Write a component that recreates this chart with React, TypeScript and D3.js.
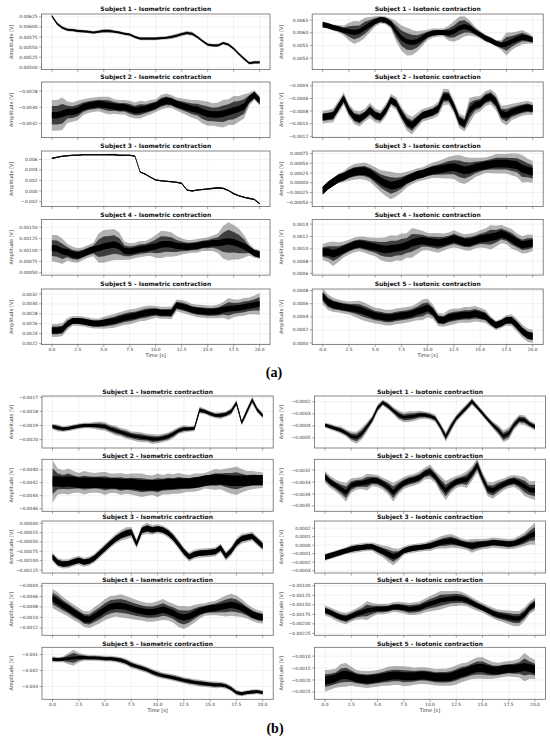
import React from 'react';
import * as d3 from 'd3';

const sampleTimes = [0, 0.5, 1, 1.5, 2, 2.5, 3, 3.5, 4, 4.5, 5, 5.5, 6, 6.5, 7, 7.5, 8, 8.5, 9, 9.5, 10,
  10.5, 11, 11.5, 12, 12.5, 13, 13.5, 14, 14.5, 15, 15.5, 16, 16.5, 17, 17.5, 18, 18.5, 19, 19.5, 20];
const xTicks = [0, 2.5, 5, 7.5, 10, 12.5, 15, 17.5, 20];

// ---------- (a) isometric ----------
const aIso1Ticks = [0.005, 0.00525, 0.0055, 0.00575, 0.006, 0.00625];
const aIso1Mid = [0.00627, 0.00608, 0.00598, 0.00593, 0.00592, 0.0059, 0.00589, 0.00588, 0.00586, 0.00588,
  0.0059, 0.0059, 0.00588, 0.00586, 0.00583, 0.00581, 0.00575, 0.00571, 0.00571, 0.00571,
  0.00571, 0.00572, 0.00573, 0.00575, 0.00578, 0.00582, 0.00585, 0.00583, 0.00575, 0.00565,
  0.00556, 0.00554, 0.00554, 0.0056, 0.00556, 0.00546, 0.00533, 0.00521, 0.0051, 0.00512, 0.00512];
const aIso1Spread = [0.00004, 0.00004, 0.00004, 0.00004, 0.00004, 0.00004, 0.00004, 0.00004, 0.00004, 0.00004,
  0.00005, 0.00005, 0.00004, 0.00004, 0.00004, 0.00004, 0.00004, 0.00004, 0.00004, 0.00004,
  0.00004, 0.00004, 0.00004, 0.00005, 0.00005, 0.00005, 0.00005, 0.00005, 0.00004, 0.00004,
  0.00004, 0.00004, 0.00004, 0.00004, 0.00004, 0.00004, 0.00004, 0.00004, 0.00004, 0.00004, 0.00004];

const aIso2Ticks = [-0.0032, -0.003, -0.0028];
const aIso2Mid = [-0.0031, -0.0031, -0.00308, -0.00306, -0.00306, -0.00304, -0.003, -0.00298, -0.00297, -0.00296,
  -0.00297, -0.00298, -0.00299, -0.003, -0.003, -0.00302, -0.00304, -0.00303, -0.00302, -0.003,
  -0.00298, -0.00294, -0.00292, -0.00293, -0.00296, -0.00298, -0.003, -0.00302, -0.00303, -0.00306,
  -0.00308, -0.00309, -0.00309, -0.00308, -0.00306, -0.00304, -0.00302, -0.00299, -0.0029, -0.00285, -0.00292];
const aIso2Spread = [0.00019, 0.00019, 0.0002, 0.00013, 0.00012, 0.00012, 0.0001, 0.00009, 0.00009, 0.00009,
  0.0001, 0.00011, 0.00009, 0.00009, 0.00009, 0.0001, 0.0001, 0.00011, 0.00009, 0.00009,
  0.00008, 0.00009, 0.00009, 0.00008, 0.00008, 0.00009, 0.0001, 0.00011, 0.00012, 0.00014,
  0.00015, 0.00014, 0.00015, 0.00017, 0.00016, 0.00018, 0.00016, 0.00015, 0.00008, 0.00006, 0.00006];

const aIso3Ticks = [-0.002, 0, 0.002, 0.004, 0.006];
const aIso3Mid = [0.0062, 0.0064, 0.0066, 0.0067, 0.0068, 0.0068, 0.0069, 0.0069, 0.0069, 0.0069,
  0.0069, 0.0069, 0.0069, 0.0068, 0.0068, 0.0068, 0.0066, 0.0036, 0.0032, 0.0026,
  0.0021, 0.00195, 0.00185, 0.00175, 0.00165, 0.00145, 0.0002, 0.0, 0.0002, 0.0003,
  0.0004, 0.0005, 0.0006, 0.0005, 0.0001, -0.0005, -0.0009, -0.0012, -0.0014, -0.0016, -0.0024];
const aIso3Spread = [0.00015, 0.00015, 0.00015, 0.00015, 0.00015, 0.00015, 0.00015, 0.00015, 0.00015, 0.00015,
  0.00015, 0.00018, 0.00022, 0.00018, 0.00015, 0.00015, 0.00015, 0.00015, 0.00015, 0.00015,
  0.00015, 0.00015, 0.00015, 0.00015, 0.00015, 0.00015, 0.00015, 0.00015, 0.00015, 0.00015,
  0.00015, 0.00015, 0.00015, 0.00015, 0.00015, 0.00015, 0.00015, 0.00015, 0.00015, 0.00015, 0.00015];

const aIso4Ticks = [0.0005, 0.00075, 0.001, 0.00125, 0.0015];
const aIso4Mid = [0.00104, 0.00103, 0.00097, 0.00095, 0.0009, 0.00088, 0.00092, 0.00097, 0.00101, 0.00104,
  0.00108, 0.0011, 0.00112, 0.00108, 0.00098, 0.00097, 0.00099, 0.00102, 0.00103, 0.00106,
  0.00108, 0.00112, 0.00113, 0.00112, 0.00109, 0.00108, 0.00107, 0.00108, 0.00109, 0.00112,
  0.00113, 0.00115, 0.00115, 0.00117, 0.00119, 0.00117, 0.00113, 0.00108, 0.00101, 0.00093, 0.0009];
const aIso4Spread = [0.00029, 0.0003, 0.00028, 0.00018, 0.00017, 0.00016, 0.00014, 0.00014, 0.00015, 0.00032,
  0.00036, 0.00035, 0.00034, 0.0003, 0.0002, 0.00018, 0.00017, 0.00018, 0.00017, 0.00019,
  0.00025, 0.0003, 0.00028, 0.00027, 0.00022, 0.00018, 0.00015, 0.00014, 0.00015, 0.00014,
  0.00015, 0.00017, 0.00022, 0.00036, 0.00042, 0.00038, 0.00034, 0.00025, 0.00013, 0.0001, 0.0001];

const aIso5Ticks = [0.0022, 0.0024, 0.0026, 0.0028, 0.003, 0.0032];
const aIso5Mid = [0.002465, 0.002465, 0.002484, 0.002594, 0.002658, 0.002658, 0.002645, 0.002626, 0.002606, 0.002606,
  0.002619, 0.002639, 0.002658, 0.00269, 0.00272, 0.00274, 0.00276, 0.00279, 0.00281, 0.00283,
  0.00284, 0.00282, 0.00282, 0.00282, 0.00297, 0.00295, 0.00292, 0.00288, 0.00286, 0.00285,
  0.00284, 0.00284, 0.00285, 0.00288, 0.0029, 0.00291, 0.00292, 0.00294, 0.00296, 0.00298, 0.003];
const aIso5Spread = [0.00013, 0.00013, 0.00013, 0.00012, 0.0001, 0.0001, 0.0001, 0.0001, 0.0001, 0.0001,
  0.00012, 0.00013, 0.00014, 0.00014, 0.00014, 0.00015, 0.00014, 0.00014, 0.00015, 0.00014,
  0.00012, 0.00012, 0.00012, 0.00013, 0.00012, 0.00013, 0.00013, 0.00012, 0.00013, 0.00013,
  0.00013, 0.00013, 0.00014, 0.00016, 0.00022, 0.00018, 0.00017, 0.00018, 0.00017, 0.00019, 0.00022];

// ---------- (a) isotonic ----------
const aTon1Ticks = [0.005, 0.0055, 0.006, 0.0065];
const aTon1Mid = [0.00632, 0.00628, 0.00621, 0.00616, 0.00609, 0.00605, 0.00601, 0.00605, 0.00619, 0.00632,
  0.00645, 0.00652, 0.00649, 0.00636, 0.00605, 0.00579, 0.00566, 0.00562, 0.00566, 0.00579,
  0.00592, 0.00599, 0.00601, 0.00601, 0.00599, 0.00605, 0.00619, 0.00625, 0.00619, 0.00605,
  0.00592, 0.00579, 0.0057, 0.00559, 0.00552, 0.00556, 0.00566, 0.00575, 0.00583, 0.00579, 0.00572];
const aTon1Spread = [0.00012, 0.00012, 0.00012, 0.00015, 0.0002, 0.00035, 0.00045, 0.0004, 0.0004, 0.0003,
  0.0002, 0.00015, 0.00015, 0.0002, 0.0004, 0.0005, 0.00055, 0.0005, 0.0004, 0.0003,
  0.0002, 0.00018, 0.00016, 0.00016, 0.0003, 0.0004, 0.00045, 0.0004, 0.0003, 0.0002,
  0.00015, 0.00014, 0.00013, 0.00013, 0.0002, 0.00045, 0.00035, 0.0003, 0.00028, 0.00022, 0.00015];

const aTon2Ticks = [-0.0012, -0.001, -0.0008, -0.0006, -0.0004];
const aTon2Mid = [-0.000896, -0.000885, -0.000869, -0.000736, -0.000603, -0.000789, -0.000896, -0.000923, -0.000869, -0.000789,
  -0.000869, -0.000896, -0.000789, -0.000629, -0.000683, -0.000843, -0.000976, -0.001029, -0.000949, -0.000869,
  -0.000843, -0.000816, -0.000763, -0.000576, -0.000576, -0.000736, -0.000949, -0.001003, -0.000789, -0.000709,
  -0.000683, -0.000603, -0.000576, -0.000656, -0.000843, -0.000869, -0.000816, -0.000789, -0.000763, -0.000747, -0.000763];
const aTon2Spread = [0.0001, 0.0001, 0.00011, 0.0001, 0.0001, 0.0001, 0.00011, 0.00012, 0.0001, 0.00012,
  0.00011, 0.0001, 0.0001, 0.0001, 0.0001, 0.00011, 0.00013, 0.00014, 0.00012, 0.0001,
  0.0001, 0.0001, 0.00011, 0.00013, 0.00012, 0.0001, 0.00012, 0.00012, 0.0002, 0.00014,
  0.00012, 0.00012, 0.00012, 0.00013, 0.00013, 0.00016, 0.00013, 0.00012, 0.00011, 0.00011, 0.0001];

const aTon3Ticks = [-0.0005, -0.00025, 0, 0.00025, 0.0005, 0.00075];
const aTon3Mid = [-0.0002, -0.00007, 0.00002, 0.00011, 0.00016, 0.00023, 0.00028, 0.0003, 0.0003, 0.00025,
  0.00015, 0.00005, -0.00002, -0.00007, -0.00005, 0, 0.00008, 0.00014, 0.0002, 0.00023,
  0.00028, 0.00032, 0.00034, 0.00036, 0.00039, 0.0004, 0.00036, 0.00032, 0.00034, 0.00039,
  0.00042, 0.00045, 0.00047, 0.00049, 0.00049, 0.00049, 0.00047, 0.00045, 0.00036, 0.00032, 0.00028];
const aTon3Spread = [0.0001, 0.0001, 0.0001, 0.00012, 0.00014, 0.00018, 0.0002, 0.0002, 0.00022, 0.00022,
  0.00025, 0.00028, 0.00032, 0.00035, 0.0003, 0.00025, 0.0002, 0.00018, 0.00017, 0.00017,
  0.00018, 0.0002, 0.00022, 0.00025, 0.00028, 0.0003, 0.00035, 0.00035, 0.0003, 0.00025,
  0.00022, 0.0002, 0.00022, 0.00025, 0.00025, 0.00025, 0.00028, 0.0003, 0.00035, 0.0003, 0.00028];

const aTon4Ticks = [0.0006, 0.0008, 0.001, 0.0012, 0.0014];
const aTon4Mid = [0.000947, 0.000947, 0.00092, 0.000947, 0.000989, 0.001027, 0.001064, 0.00108, 0.001064, 0.001043,
  0.001027, 0.001, 0.000989, 0.001, 0.001011, 0.001027, 0.001053, 0.001096, 0.001117, 0.001133,
  0.001117, 0.001107, 0.001096, 0.001107, 0.001133, 0.00116, 0.001133, 0.001107, 0.001107, 0.001133,
  0.00116, 0.001171, 0.001187, 0.001203, 0.00124, 0.001213, 0.00116, 0.001107, 0.001064, 0.00108, 0.001096];
const aTon4Spread = [0.00013, 0.00016, 0.0002, 0.00016, 0.00013, 0.00012, 0.00012, 0.00012, 0.00013, 0.00014,
  0.00015, 0.00018, 0.0002, 0.00022, 0.0002, 0.00022, 0.0002, 0.00024, 0.0002, 0.00016,
  0.00014, 0.00015, 0.00016, 0.00014, 0.00013, 0.00014, 0.00013, 0.00013, 0.00014, 0.00013,
  0.00014, 0.00016, 0.0002, 0.00017, 0.00015, 0.00014, 0.00016, 0.00014, 0.00014, 0.00015, 0.00013];

const aTon5Ticks = [0, 0.0002, 0.0004, 0.0006, 0.0008];
const aTon5Mid = [0.000712, 0.000623, 0.000582, 0.000565, 0.000547, 0.000535, 0.000523, 0.000506, 0.000476, 0.000447,
  0.000418, 0.000406, 0.000388, 0.000388, 0.000406, 0.000418, 0.000429, 0.000447, 0.000476, 0.000506,
  0.000535, 0.000476, 0.000359, 0.000347, 0.000388, 0.000406, 0.000418, 0.000429, 0.000429, 0.000447,
  0.000429, 0.000406, 0.000329, 0.00027, 0.0003, 0.000347, 0.000347, 0.00027, 0.000182, 0.00012, 0.0001];
const aTon5Spread = [0.00012, 0.00012, 0.00011, 0.0001, 0.0001, 0.0001, 0.00012, 0.00014, 0.00014, 0.00013,
  0.00012, 0.00012, 0.00012, 0.00012, 0.00012, 0.00012, 0.00012, 0.00012, 0.00013, 0.00016,
  0.00014, 0.00011, 0.0001, 0.0001, 0.00012, 0.00012, 0.00011, 0.00012, 0.00012, 0.00012,
  0.00011, 0.0001, 0.00008, 0.00007, 0.00007, 0.00008, 0.00009, 0.0001, 0.0001, 0.0001, 0.0001];

// ---------- (b) isometric ----------
const bIso1Ticks = [-0.002, -0.0019, -0.0018, -0.0017];
const bIso1Mid = [-0.001907, -0.001917, -0.001925, -0.00192, -0.001912, -0.001905, -0.0019, -0.0019, -0.0019, -0.001902,
  -0.001907, -0.001924, -0.001936, -0.001948, -0.00196, -0.001972, -0.001979, -0.001984, -0.001989, -0.001996,
  -0.001996, -0.001989, -0.001979, -0.00196, -0.001936, -0.001924, -0.001924, -0.00192, -0.00179, -0.0018,
  -0.001816, -0.001828, -0.001828, -0.00182, -0.0018, -0.00174, -0.00188, -0.0018, -0.00172, -0.00179, -0.00183];
const bIso1Spread = [0.00002, 0.000025, 0.00002, 0.00002, 0.00002, 0.00002, 0.00002, 0.00002, 0.000025, 0.00003,
  0.00003, 0.00003, 0.000035, 0.00003, 0.000035, 0.00003, 0.000035, 0.000035, 0.00003, 0.000035,
  0.00003, 0.00003, 0.00003, 0.00003, 0.000025, 0.000025, 0.00002, 0.00002, 0.000025, 0.00002,
  0.00002, 0.00002, 0.000025, 0.00002, 0.000025, 0.00002, 0.00002, 0.000025, 0.000025, 0.00002, 0.00002];

const bIso2Ticks = [-0.0046, -0.0044, -0.0042, -0.004];
const bIso2Mid = [-0.00418, -0.00418, -0.00419, -0.00418, -0.00419, -0.0042, -0.0042, -0.0042, -0.0042, -0.0042,
  -0.00421, -0.00421, -0.00421, -0.00422, -0.00422, -0.00422, -0.00423, -0.00424, -0.00424, -0.00424,
  -0.00424, -0.00423, -0.00422, -0.00422, -0.00421, -0.00421, -0.00421, -0.0042, -0.00419, -0.00417,
  -0.00416, -0.00415, -0.00415, -0.00416, -0.00417, -0.00417, -0.00417, -0.00417, -0.00416, -0.00416, -0.00416];
const bIso2Spread = [0.00033, 0.0002, 0.00018, 0.0002, 0.00017, 0.00015, 0.00018, 0.00016, 0.00015, 0.00016,
  0.00018, 0.00015, 0.00015, 0.00017, 0.00015, 0.00016, 0.00017, 0.00018, 0.00016, 0.00015,
  0.00018, 0.00015, 0.00016, 0.00015, 0.00016, 0.00014, 0.00013, 0.00014, 0.00013, 0.00012,
  0.00014, 0.00016, 0.00015, 0.00018, 0.0002, 0.00022, 0.00018, 0.00015, 0.00014, 0.00013, 0.00012];

const bIso3Ticks = [-0.00125, -0.001, -0.00075, -0.0005, -0.00025, 0];
const bIso3Mid = [-0.0009, -0.00105, -0.00109, -0.00108, -0.00103, -0.00099, -0.00104, -0.00101, -0.00093, -0.0008,
  -0.00067, -0.00054, -0.00042, -0.00033, -0.00027, -0.00024, -0.00055, -0.00019, -0.00014, -0.00018,
  -0.00015, -0.00018, -0.00026, -0.00039, -0.00057, -0.00076, -0.0009, -0.00083, -0.0008, -0.00079,
  -0.00078, -0.00076, -0.00066, -0.00088, -0.00074, -0.00053, -0.00041, -0.00038, -0.00035, -0.00048, -0.00061];
const bIso3Spread = [0.00012, 0.00012, 0.00012, 0.00012, 0.00012, 0.00012, 0.00012, 0.00012, 0.00012, 0.00012,
  0.00012, 0.00012, 0.00013, 0.00014, 0.00016, 0.00014, 0.00012, 0.00013, 0.00015, 0.00013,
  0.00012, 0.00012, 0.00012, 0.00012, 0.00012, 0.00012, 0.00012, 0.00012, 0.00012, 0.00012,
  0.00012, 0.00012, 0.00012, 0.00012, 0.00012, 0.00013, 0.00013, 0.00012, 0.00012, 0.00012, 0.00012];

const bIso4Ticks = [-0.0012, -0.001, -0.0008, -0.0006, -0.0004];
const bIso4Mid = [-0.00064, -0.0007, -0.00077, -0.00083, -0.0009, -0.00096, -0.00103, -0.00104, -0.00098, -0.00092,
  -0.00085, -0.0008, -0.00078, -0.00078, -0.0008, -0.00083, -0.00086, -0.00088, -0.0009, -0.0009,
  -0.00088, -0.00085, -0.00088, -0.00092, -0.00098, -0.001, -0.00098, -0.00093, -0.00088, -0.00085,
  -0.00083, -0.00082, -0.0008, -0.00078, -0.00076, -0.00078, -0.00082, -0.00088, -0.00094, -0.00098, -0.001];
const bIso4Spread = [0.00018, 0.00018, 0.00016, 0.00015, 0.00015, 0.00014, 0.00015, 0.00016, 0.00018, 0.00019,
  0.0002, 0.00021, 0.0002, 0.00022, 0.00021, 0.0002, 0.00019, 0.00018, 0.00018, 0.00018,
  0.00019, 0.0002, 0.00018, 0.00018, 0.0002, 0.00022, 0.00019, 0.00017, 0.00014, 0.00012,
  0.00013, 0.00014, 0.00017, 0.0002, 0.00021, 0.0002, 0.00017, 0.00014, 0.00013, 0.00012, 0.00012];

const bIso5Ticks = [-0.003, -0.002, -0.001];
const bIso5Mid = [-0.0013, -0.00132, -0.0013, -0.00126, -0.00121, -0.00119, -0.00119, -0.00121, -0.00121, -0.00123,
  -0.00126, -0.00126, -0.0013, -0.00136, -0.00147, -0.00164, -0.00174, -0.00185, -0.00196, -0.00211,
  -0.00223, -0.00232, -0.00238, -0.00245, -0.00253, -0.00262, -0.00268, -0.00274, -0.00279, -0.00283,
  -0.00287, -0.0029, -0.0029, -0.00296, -0.00313, -0.00338, -0.00345, -0.00338, -0.00334, -0.00332, -0.00338];
const bIso5Spread = [0.00018, 0.00017, 0.00018, 0.00035, 0.0005, 0.0003, 0.0002, 0.00018, 0.00018, 0.00017,
  0.00018, 0.00018, 0.00018, 0.0002, 0.0002, 0.00022, 0.0002, 0.00021, 0.0002, 0.0002,
  0.00021, 0.0002, 0.0002, 0.00021, 0.0002, 0.0002, 0.00021, 0.0002, 0.00021, 0.0002,
  0.0002, 0.00021, 0.0002, 0.00018, 0.00017, 0.00016, 0.00016, 0.00015, 0.00016, 0.00015, 0.00015];

// ---------- (b) isotonic ----------
const bTon1Ticks = [-0.0005, -0.0004, -0.0003, -0.0002];
const bTon1Mid = [-0.000394, -0.000408, -0.000422, -0.000436, -0.000459, -0.000487, -0.000498, -0.000464, -0.000408, -0.000347,
  -0.000254, -0.000207, -0.000235, -0.000274, -0.00031, -0.00033, -0.000324, -0.000319, -0.00031, -0.00031,
  -0.000319, -0.000338, -0.000408, -0.000492, -0.000408, -0.000338, -0.000291, -0.000246, -0.000198, -0.000246,
  -0.000296, -0.000347, -0.000394, -0.000436, -0.000487, -0.000464, -0.000394, -0.000347, -0.000352, -0.000386, -0.000408];
const bTon1Spread = [0.00002, 0.000025, 0.000025, 0.00003, 0.00003, 0.00004, 0.00005, 0.00005, 0.00004, 0.00003,
  0.00003, 0.000025, 0.00003, 0.00003, 0.00004, 0.00004, 0.000045, 0.00004, 0.000035, 0.00003,
  0.00003, 0.00003, 0.00003, 0.00004, 0.00004, 0.00003, 0.00003, 0.00003, 0.00003, 0.000025,
  0.000025, 0.000025, 0.00003, 0.00004, 0.00005, 0.00005, 0.00004, 0.00004, 0.00004, 0.00003, 0.00003];

const bTon2Ticks = [-0.0035, -0.0034, -0.0033, -0.0032];
const bTon2Mid = [-0.003257, -0.0033, -0.003329, -0.003357, -0.003386, -0.003329, -0.003314, -0.003309, -0.0033, -0.003286,
  -0.003291, -0.003314, -0.003343, -0.003386, -0.003343, -0.003309, -0.003291, -0.00328, -0.003263, -0.003229,
  -0.003214, -0.003257, -0.00332, -0.003371, -0.003329, -0.0033, -0.003286, -0.00328, -0.003229, -0.00316,
  -0.00327, -0.00336, -0.003371, -0.003343, -0.00332, -0.0033, -0.003291, -0.003309, -0.003337, -0.003366, -0.003371];
const bTon2Spread = [0.00005, 0.00005, 0.00005, 0.00006, 0.00008, 0.00006, 0.00005, 0.00005, 0.00007, 0.00005,
  0.00005, 0.00005, 0.00006, 0.00008, 0.00006, 0.00005, 0.00005, 0.00005, 0.00005, 0.00005,
  0.00006, 0.00005, 0.00007, 0.00008, 0.00006, 0.00005, 0.00005, 0.00007, 0.00006, 0.00006,
  0.00005, 0.00006, 0.00007, 0.00006, 0.00005, 0.00005, 0.00005, 0.00006, 0.00008, 0.00007, 0.00008];

const bTon3Ticks = [-0.0003, -0.0002, -0.0001, 0, 0.0001, 0.0002];
const bTon3Mid = [-0.000142, -0.000123, -0.000104, -0.000085, -0.000065, -0.000046, -0.000035, -0.000027, -0.000019, -0.000019,
  -0.000046, -0.000073, -0.000104, -0.000135, -0.000112, -0.000065, -0.000046, -0.000035, -0.000027, -0.000019,
  -0.000008, 0.000012, 0.000031, 0.000042, 0.00005, 0.000038, 0.000019, 0.000004, -0.000008, 0.000004,
  0.000012, 0.000019, 0.000031, 0.000025, 0.000019, 0.000012, 0.000019, 0.000042, 0.000069, 0.000108, 0.000135];
const bTon3Spread = [0.00004, 0.00004, 0.00004, 0.00004, 0.00004, 0.00005, 0.00005, 0.00005, 0.00005, 0.00005,
  0.00006, 0.00007, 0.00009, 0.0001, 0.00007, 0.00005, 0.00005, 0.00005, 0.00005, 0.00005,
  0.00006, 0.00006, 0.00007, 0.00008, 0.00008, 0.00007, 0.00006, 0.00006, 0.00008, 0.00007,
  0.00006, 0.00006, 0.00006, 0.00006, 0.00006, 0.00006, 0.00006, 0.00007, 0.00008, 0.0001, 0.00013];

const bTon4Ticks = [-0.00225, -0.002, -0.00175, -0.0015, -0.00125, -0.001];
const bTon4Mid = [-0.00165, -0.0017, -0.00177, -0.00183, -0.00186, -0.0018, -0.00174, -0.0017, -0.00165, -0.00163,
  -0.00161, -0.00161, -0.0016, -0.00156, -0.00156, -0.00158, -0.00161, -0.0016, -0.00158, -0.00152,
  -0.00147, -0.00143, -0.00138, -0.00136, -0.00134, -0.00133, -0.00134, -0.00138, -0.00145, -0.00152,
  -0.00158, -0.00165, -0.00172, -0.00177, -0.0018, -0.00183, -0.00186, -0.00186, -0.00175, -0.00158, -0.00148];
const bTon4Spread = [0.00013, 0.00013, 0.00014, 0.00014, 0.00015, 0.00014, 0.00015, 0.00018, 0.00025, 0.00018,
  0.00014, 0.00014, 0.00013, 0.00013, 0.00014, 0.00015, 0.00016, 0.00017, 0.00017, 0.00018,
  0.0002, 0.00022, 0.00024, 0.00022, 0.0002, 0.0002, 0.00018, 0.00016, 0.00015, 0.00014,
  0.00013, 0.00013, 0.00014, 0.00015, 0.00016, 0.00018, 0.0002, 0.0002, 0.00018, 0.00016, 0.00017];

const bTon5Ticks = [-0.0025, -0.002, -0.0015, -0.001];
const bTon5Mid = [-0.002029, -0.001986, -0.001929, -0.001815, -0.001786, -0.001843, -0.001929, -0.001958, -0.001986, -0.001958,
  -0.001929, -0.001886, -0.001843, -0.001815, -0.001815, -0.001843, -0.001843, -0.001843, -0.001815, -0.001815,
  -0.001843, -0.001886, -0.001886, -0.001886, -0.001858, -0.001786, -0.0017, -0.001643, -0.001557, -0.0015,
  -0.0015, -0.001557, -0.0016, -0.0016, -0.001557, -0.001529, -0.001529, -0.0015, -0.001457, -0.0015, -0.001557];
const bTon5Spread = [0.00045, 0.00042, 0.0004, 0.00048, 0.0005, 0.0004, 0.00035, 0.00035, 0.00036, 0.00035,
  0.00035, 0.00036, 0.0004, 0.0004, 0.0004, 0.00042, 0.0004, 0.00036, 0.00035, 0.00035,
  0.00035, 0.00035, 0.00036, 0.00036, 0.00038, 0.0004, 0.0004, 0.00038, 0.0004, 0.00045,
  0.00045, 0.0004, 0.00035, 0.00032, 0.00032, 0.00032, 0.00035, 0.0004, 0.0006, 0.00045, 0.0004];

type Fig = 'a' | 'b';
interface PanelSpec {
  fig: Fig;
  col: number;
  row: number;
  title: string;
  yDomain: [number, number];
  yTicks: number[];
  digits: number;
  mid: number[];
  spread: number[];
  core: number;
}

const iso = (n: number) => `Subject ${n} - Isometric contraction`;
const ton = (n: number) => `Subject ${n} - Isotonic contraction`;

const panels: PanelSpec[] = [
  { fig: 'a', col: 0, row: 0, title: iso(1), yDomain: [0.00494, 0.00632], yTicks: aIso1Ticks, digits: 5, mid: aIso1Mid, spread: aIso1Spread, core: 0.00002 },
  { fig: 'a', col: 0, row: 1, title: iso(2), yDomain: [-0.003375, -0.002688], yTicks: aIso2Ticks, digits: 4, mid: aIso2Mid, spread: aIso2Spread, core: 0.00004 },
  { fig: 'a', col: 0, row: 2, title: iso(3), yDomain: [-0.00296, 0.0076], yTicks: aIso3Ticks, digits: 3, mid: aIso3Mid, spread: aIso3Spread, core: 0.0001 },
  { fig: 'a', col: 0, row: 3, title: iso(4), yDomain: [0.000448, 0.00167], yTicks: aIso4Ticks, digits: 5, mid: aIso4Mid, spread: aIso4Spread, core: 0.00007 },
  { fig: 'a', col: 0, row: 4, title: iso(5), yDomain: [0.00218, 0.0033], yTicks: aIso5Ticks, digits: 4, mid: aIso5Mid, spread: aIso5Spread, core: 0.00006 },
  { fig: 'a', col: 1, row: 0, title: ton(1), yDomain: [0.00455, 0.00674], yTicks: aTon1Ticks, digits: 4, mid: aTon1Mid, spread: aTon1Spread, core: 0.0001 },
  { fig: 'a', col: 1, row: 1, title: ton(2), yDomain: [-0.00122, -0.00034], yTicks: aTon2Ticks, digits: 4, mid: aTon2Mid, spread: aTon2Spread, core: 0.00005 },
  { fig: 'a', col: 1, row: 2, title: ton(3), yDomain: [-0.00061, 0.000815], yTicks: aTon3Ticks, digits: 5, mid: aTon3Mid, spread: aTon3Spread, core: 0.0001 },
  { fig: 'a', col: 1, row: 3, title: ton(4), yDomain: [0.000573, 0.001475], yTicks: aTon4Ticks, digits: 4, mid: aTon4Mid, spread: aTon4Spread, core: 0.00006 },
  { fig: 'a', col: 1, row: 4, title: ton(5), yDomain: [-0.000025, 0.000825], yTicks: aTon5Ticks, digits: 4, mid: aTon5Mid, spread: aTon5Spread, core: 0.00005 },
  { fig: 'b', col: 0, row: 0, title: iso(1), yDomain: [-0.00206, -0.00169], yTicks: bIso1Ticks, digits: 4, mid: bIso1Mid, spread: bIso1Spread, core: 0.00001 },
  { fig: 'b', col: 0, row: 1, title: iso(2), yDomain: [-0.00464, -0.00384], yTicks: bIso2Ticks, digits: 4, mid: bIso2Mid, spread: bIso2Spread, core: 0.00008 },
  { fig: 'b', col: 0, row: 2, title: iso(3), yDomain: [-0.00133, 0.00006], yTicks: bIso3Ticks, digits: 5, mid: bIso3Mid, spread: bIso3Spread, core: 0.00007 },
  { fig: 'b', col: 0, row: 3, title: iso(4), yDomain: [-0.00134, -0.00035], yTicks: bIso4Ticks, digits: 4, mid: bIso4Mid, spread: bIso4Spread, core: 0.00006 },
  { fig: 'b', col: 0, row: 4, title: iso(5), yDomain: [-0.0038, -0.00055], yTicks: bIso5Ticks, digits: 3, mid: bIso5Mid, spread: bIso5Spread, core: 0.00009 },
  { fig: 'b', col: 1, row: 0, title: ton(1), yDomain: [-0.000584, -0.000152], yTicks: bTon1Ticks, digits: 4, mid: bTon1Mid, spread: bTon1Spread, core: 0.000012 },
  { fig: 'b', col: 1, row: 1, title: ton(2), yDomain: [-0.003545, -0.00311], yTicks: bTon2Ticks, digits: 4, mid: bTon2Mid, spread: bTon2Spread, core: 0.00002 },
  { fig: 'b', col: 1, row: 2, title: ton(3), yDomain: [-0.000327, 0.000284], yTicks: bTon3Ticks, digits: 4, mid: bTon3Mid, spread: bTon3Spread, core: 0.00003 },
  { fig: 'b', col: 1, row: 3, title: ton(4), yDomain: [-0.0023, -0.000935], yTicks: bTon4Ticks, digits: 5, mid: bTon4Mid, spread: bTon4Spread, core: 0.00006 },
  { fig: 'b', col: 1, row: 4, title: ton(5), yDomain: [-0.00281, -0.00063], yTicks: bTon5Ticks, digits: 4, mid: bTon5Mid, spread: bTon5Spread, core: 0.00017 },
];

// layout (px)
const colX: Record<Fig, [number, number][]> = {
  a: [[41.5, 270], [312.2, 543.2]],
  b: [[42, 273.2], [314.5, 545.5]],
};
const rowTop: Record<Fig, number[]> = {
  a: [14, 82, 151, 219.5, 289],
  b: [396, 459.3, 521, 583.3, 647.3],
};
const rowH: Record<Fig, number> = { a: 55.6, b: 52 };
const titleGap: Record<Fig, number> = { a: 3, b: 1.6 };
const yLabelX: Record<Fig, number[]> = { a: [11.7, 281], b: [11.7, 281.7] };

// envelope layers: fraction of the read spread, and opacity of each layer
const bandLayers = [
  { frac: 1, opacity: 0.3 },
  { frac: 0.6, opacity: 0.65 },
];

const fmtTick = (v: number, digits: number) => v.toFixed(digits).replace('-', '\u2212');

function Panel({ spec, idx }: { spec: PanelSpec; idx: number }) {
  const [x0, x1] = colX[spec.fig][spec.col];
  const top = rowTop[spec.fig][spec.row];
  const h = rowH[spec.fig];
  const bottom = top + h;
  const x = d3.scaleLinear().domain([-1, 21]).range([x0, x1]);
  const y = d3.scaleLinear().domain(spec.yDomain).range([bottom, top]);
  const sp = (i: number) => spec.spread[i] ?? spec.spread[spec.spread.length - 1];

  const band = (frac: number) =>
    d3.area<number>()
      .x((_, i) => x(sampleTimes[i]))
      .y0((v, i) => y(v - Math.max(sp(i) * frac, spec.core)))
      .y1((v, i) => y(v + Math.max(sp(i) * frac, spec.core)));
  const core = d3.area<number>()
    .x((_, i) => x(sampleTimes[i]))
    .y0((v) => y(v - spec.core))
    .y1((v) => y(v + spec.core));
  const line = d3.line<number>()
    .x((_, i) => x(sampleTimes[i]))
    .y((v) => y(v));

  const clipId = `clip-${idx}`;
  const isBottom = spec.row === 4;
  const cx = (x0 + x1) / 2;
  const lx = yLabelX[spec.fig][spec.col];
  const ly = (top + bottom) / 2;

  return (
    <g>
      <defs>
        <clipPath id={clipId}>
          <rect x={x0} y={top} width={x1 - x0} height={h} />
        </clipPath>
      </defs>
      {/* grid */}
      <g stroke="#e4e4e4" strokeWidth={0.5}>
        {xTicks.map((t) => (
          <line key={`gx${t}`} x1={x(t)} x2={x(t)} y1={top} y2={bottom} />
        ))}
        {spec.yTicks.map((t) => (
          <line key={`gy${t}`} x1={x0} x2={x1} y1={y(t)} y2={y(t)} />
        ))}
      </g>
      {/* signal */}
      <g clipPath={`url(#${clipId})`}>
        {bandLayers.map((l) => (
          <path key={l.frac} d={band(l.frac)(spec.mid) ?? ''} fill="#000" fillOpacity={l.opacity} />
        ))}
        <path d={core(spec.mid) ?? ''} fill="#000" />
        <path d={line(spec.mid) ?? ''} fill="none" stroke="#000" strokeWidth={0.7} />
      </g>
      <rect x={x0} y={top} width={x1 - x0} height={h} fill="none" stroke="#6a6a6a" strokeWidth={0.8} />
      {/* y axis */}
      <g fontSize={4.4} fill="#333" textAnchor="end">
        {spec.yTicks.map((t) => (
          <g key={`ty${t}`}>
            <line x1={x0 - 2.5} x2={x0} y1={y(t)} y2={y(t)} stroke="#555" strokeWidth={0.5} />
            <text x={x0 - 4} y={y(t)} dy="0.35em">{fmtTick(t, spec.digits)}</text>
          </g>
        ))}
      </g>
      {/* x axis */}
      <g>
        {xTicks.map((t) => (
          <line key={`tx${t}`} x1={x(t)} x2={x(t)} y1={bottom} y2={bottom + 2.5} stroke="#555" strokeWidth={0.5} />
        ))}
        {isBottom && (
          <g fontSize={4.4} fill="#333" textAnchor="middle">
            {xTicks.map((t) => (
              <text key={`lx${t}`} x={x(t)} y={bottom + 6.6}>{t.toFixed(1)}</text>
            ))}
            <text x={cx} y={bottom + 12.4} fontSize={5}>Time [s]</text>
          </g>
        )}
      </g>
      <text
        x={lx}
        y={ly}
        transform={`rotate(-90 ${lx} ${ly})`}
        textAnchor="middle"
        fontSize={5}
        fill="#444"
        dy="0.35em"
      >
        Amplitude [V]
      </text>
      <text x={cx} y={top - titleGap[spec.fig]} textAnchor="middle" fontSize={6} fontWeight="bold" fill="#111">
        {spec.title}
      </text>
    </g>
  );
}

export default function App() {
  return (
    <svg
      width={550}
      height={740}
      viewBox="0 0 550 740"
      style={{ position: 'absolute', left: 0, top: 0, display: 'block' }}
      fontFamily="'DejaVu Sans', sans-serif"
    >
      <rect width={550} height={740} fill="#fff" />
      {panels.map((p, i) => (
        <Panel key={i} spec={p} idx={i} />
      ))}
      <text x={274} y={377} textAnchor="middle" fontSize={14} fontWeight="bold" fontFamily="'Liberation Serif', serif">(a)</text>
      <text x={275} y={733} textAnchor="middle" fontSize={14} fontWeight="bold" fontFamily="'Liberation Serif', serif">(b)</text>
    </svg>
  );
}
